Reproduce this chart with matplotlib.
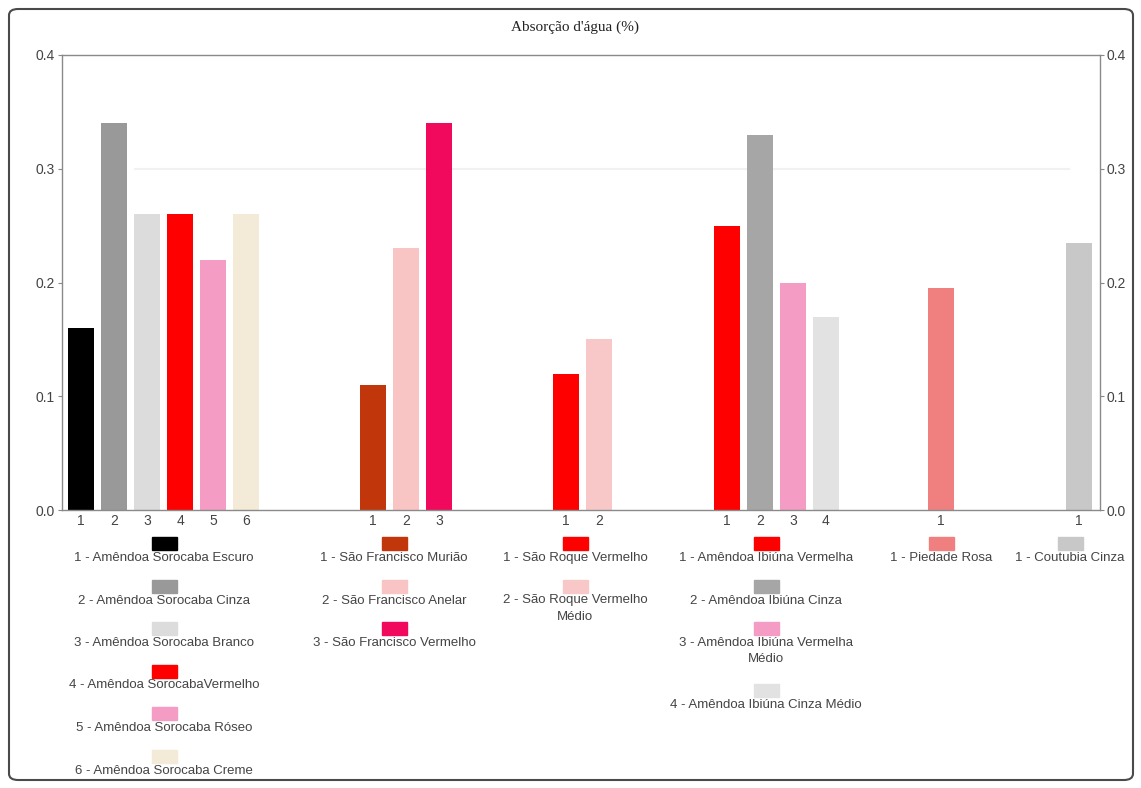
import matplotlib.pyplot as plt
from matplotlib.patches import Rectangle, FancyBboxPatch

# chart data
title = "Absorção d'água (%)"

sorocaba_labels = ["1 - Amêndoa Sorocaba Escuro", "2 - Amêndoa Sorocaba Cinza",
                   "3 - Amêndoa Sorocaba Branco", "4 - Amêndoa SorocabaVermelho",
                   "5 - Amêndoa Sorocaba Róseo", "6 - Amêndoa Sorocaba Creme"]
sorocaba_values = [0.16, 0.34, 0.26, 0.26, 0.22, 0.26]
sorocaba_colors = ["#000000", "#999999", "#dcdcdc", "#ff0000", "#f59cc4", "#f3ead8"]

sfrancisco_labels = ["1 - São Francisco Murião", "2 - São Francisco Anelar",
                     "3 - São Francisco Vermelho"]
sfrancisco_values = [0.11, 0.23, 0.34]
sfrancisco_colors = ["#c2360c", "#f8c4c4", "#f0095c"]

sroque_labels = ["1 - São Roque Vermelho", "2 - São Roque Vermelho\nMédio"]
sroque_values = [0.12, 0.15]
sroque_colors = ["#ff0000", "#f8c8c8"]

ibiuna_labels = ["1 - Amêndoa Ibiúna Vermelha", "2 - Amêndoa Ibiúna Cinza",
                 "3 - Amêndoa Ibiúna Vermelha\nMédio", "4 - Amêndoa Ibiúna Cinza Médio"]
ibiuna_values = [0.25, 0.33, 0.20, 0.17]
ibiuna_colors = ["#ff0000", "#a6a6a6", "#f59cc4", "#e2e2e2"]

piedade_labels = ["1 - Piedade Rosa"]
piedade_values = [0.195]
piedade_colors = ["#f08080"]

cotubia_labels = ["1 - Coutubia Cinza"]
cotubia_values = [0.235]
cotubia_colors = ["#c8c8c8"]

yticks = [0.0, 0.1, 0.2, 0.3, 0.4]

groups = [
    (sorocaba_labels, sorocaba_values, sorocaba_colors),
    (sfrancisco_labels, sfrancisco_values, sfrancisco_colors),
    (sroque_labels, sroque_values, sroque_colors),
    (ibiuna_labels, ibiuna_values, ibiuna_colors),
    (piedade_labels, piedade_values, piedade_colors),
    (cotubia_labels, cotubia_values, cotubia_colors),
]

# layout (slot units on x, pixels for the legend blocks)
group_start = [0.58, 9.42, 15.27, 20.15, 26.64, 30.82]
legend_center = [164, 394, 575, 766, 941, 1070]
W, H = 1141, 788
txt_color = "#444444"


def px(x):
    return x / W


def py(y):
    return 1 - y / H


fig = plt.figure(figsize=(W / 100, H / 100), dpi=100)
plt.rcParams['font.family'] = ['Liberation Sans', 'DejaVu Sans']

ax = fig.add_axes([px(62), py(510), px(1100) - px(62), py(55) - py(510)])
ax.axhline(0.3, xmin=0.07, xmax=0.97, color="#f1f1f1", lw=1.5, zorder=0)

xt, xl = [], []
for (labels, values, colors), x0 in zip(groups, group_start):
    xs = [x0 + i for i in range(len(values))]
    ax.bar(xs, values, width=0.8, color=colors, zorder=2)
    xt += xs
    xl += [str(i + 1) for i in range(len(values))]

ax.set_xlim(0, 1038 / 33)
ax.set_ylim(0, 0.4)
ax.set_xticks(xt)
ax.set_xticklabels(xl, fontsize=10, color=txt_color)
ax.tick_params(axis="x", length=0, pad=3)
ax.set_yticks(yticks)
ax.set_yticklabels([f"{v:.1f}" for v in yticks], fontsize=10, color=txt_color)
ax.tick_params(axis="y", length=3, color="#888888", left=True, right=True,
               labelleft=True, labelright=True, pad=2)
for s in ax.spines.values():
    s.set_color("#8a8a8a")
    s.set_linewidth(1)

# legends under each group
for (labels, values, colors), cx in zip(groups, legend_center):
    top = 537
    for lab, col in zip(labels, colors):
        fig.patches.append(Rectangle((px(cx - 12), py(top + 13)), px(25), 13 / H,
                                     transform=fig.transFigure, color=col))
        fig.text(px(cx), py(top + 15), lab, ha="center", va="top", fontsize=9.5,
                 color=txt_color, linespacing=1.45)
        top += 42.5 + 19 * lab.count("\n")

fig.text(px(575), py(27), title, ha="center", va="center", fontsize=11,
         family="Liberation Serif", color="#222222")

fig.patches.append(FancyBboxPatch((px(9), py(780)), px(1124), (771) / H,
                                  boxstyle="round,pad=0,rounding_size=0.008",
                                  transform=fig.transFigure, fill=False,
                                  ec="#4a4a4a", lw=1.5))

fig.savefig("out.png", dpi=100)
